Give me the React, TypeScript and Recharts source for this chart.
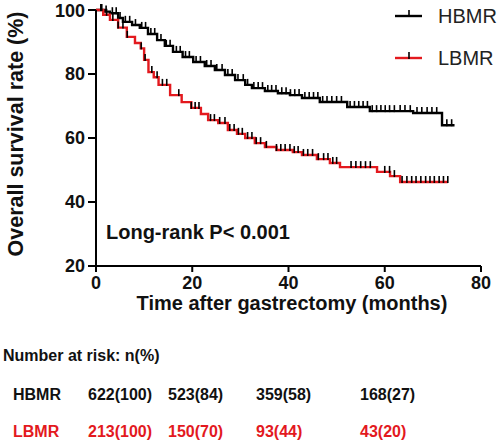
import React from "react";
import { LineChart, Line, XAxis, YAxis } from "recharts";

// step points (months, survival %)
const hbmrTimes = [0, 1.9, 2.9, 4.6, 5.6, 7.5, 9.1, 10.8, 12.7, 14.3, 16.0, 18.0, 20.2, 22.6, 24.7, 26.8, 28.9, 31.0, 32.4, 35.1, 37.8, 40.3, 42.8, 46.5, 52.2, 56.9, 65.9, 71.9];
const hbmrSurv = [100, 99.5, 99, 97.5, 96.3, 95.3, 94.4, 92.5, 90.6, 88.8, 86.9, 85.3, 83.75, 82.5, 81.25, 79.7, 78.1, 76.6, 75.6, 74.7, 74.0, 73.4, 72.5, 71.25, 69.7, 68.4, 67.8, 64.0];
const hbmrEnd = 74.5;
const hbmrCensor = [1.2, 2.1, 3.4, 4.2, 5.0, 6.1, 7.0, 8.2, 9.5, 10.3, 11.4, 12.2, 13.5, 14.6, 15.4, 16.7, 17.5, 18.6, 19.4, 20.8, 21.7, 23.0, 23.9, 25.1, 26.2, 27.4, 28.3, 29.5, 30.6, 31.5, 32.8, 33.7, 34.6, 35.7, 36.5, 37.4, 38.6, 39.5, 40.4, 41.3, 42.2, 43.4, 44.3, 45.2, 46.1, 47.1, 48.0, 49.0, 50.0, 51.0, 52.8, 53.7, 54.6, 55.5, 56.4, 57.4, 58.3, 59.2, 60.1, 61.0, 62.0, 63.2, 64.2, 65.3, 66.7, 67.7, 68.8, 69.8, 70.8, 72.9, 73.9];

const lbmrTimes = [0, 1.5, 2.9, 4.6, 6.4, 8.1, 9.3, 10.0, 10.9, 12.0, 13.0, 15.4, 17.8, 19.8, 21.8, 23.3, 25.4, 27.4, 29.3, 31.0, 33.0, 35.1, 37.5, 40.9, 42.8, 45.9, 48.6, 50.7, 58.4, 61.1, 63.2];
const lbmrSurv = [100, 98.5, 96.9, 94.5, 91.6, 89.7, 88.0, 84.4, 80.6, 79.0, 76.6, 73.4, 71.2, 69.4, 67.5, 65.6, 64.7, 62.5, 61.3, 60.0, 58.4, 57.2, 56.25, 55.6, 54.7, 53.4, 52.2, 50.9, 49.4, 48.1, 46.25];
const lbmrEnd = 73.1;
const lbmrCensor = [1.0, 2.2, 3.5, 4.6, 5.6, 6.5, 9.4, 10.2, 11.6, 12.7, 13.8, 14.7, 17.2, 19.8, 20.6, 21.4, 23.8, 24.6, 25.7, 26.8, 27.8, 28.7, 29.6, 30.4, 31.5, 32.4, 33.3, 34.2, 35.4, 37.5, 38.4, 39.3, 40.3, 41.2, 42.0, 43.1, 44.0, 45.0, 46.2, 47.3, 48.2, 49.2, 50.0, 53.0, 54.0, 55.0, 56.0, 57.0, 60.0, 61.0, 62.0, 63.6, 64.6, 65.6, 66.5, 67.5, 68.5, 69.4, 70.3, 71.3, 72.2, 73.1];

const xTicks = [0, 20, 40, 60, 80];
const yTicks = [20, 40, 60, 80, 100];

const riskGroups = ["HBMR", "LBMR"];
const hbmrRisk = ["622(100)", "523(84)", "359(58)", "168(27)"];
const lbmrRisk = ["213(100)", "150(70)", "93(44)", "43(20)"];

const FONT = "'Liberation Sans', Arial, sans-serif";
const RED = "#e3191e";

function survAt(times: number[], surv: number[], t: number) {
  let v = surv[0];
  for (let i = 0; i < times.length; i++) if (times[i] <= t) v = surv[i];
  return v;
}

function buildSeries(times: number[], surv: number[], end: number, censor: number[]) {
  const all = Array.from(new Set([...times, ...censor, end])).sort((a, b) => a - b);
  return all.map((t) => ({ t, s: survAt(times, surv, t), censor: censor.includes(t) }));
}

const hbmrData = buildSeries(hbmrTimes, hbmrSurv, hbmrEnd, hbmrCensor);
const lbmrData = buildSeries(lbmrTimes, lbmrSurv, lbmrEnd, lbmrCensor);

const censorDot = (props: any) => {
  const { cx, cy, payload, index } = props;
  if (!payload || !payload.censor) return <g key={index} />;
  return <line key={index} x1={cx} x2={cx} y1={cy - 6} y2={cy + 1} stroke="#000" strokeWidth={1.6} />;
};

const legendItems = [
  { name: "HBMR", color: "#000", y: 16 },
  { name: "LBMR", color: RED, y: 58 },
];

export default function App() {
  const cols = [88, 168, 256, 360];
  return (
    <div style={{ position: "absolute", left: 0, top: 0, width: 500, height: 446, background: "#fff", fontFamily: FONT }}>
      <LineChart width={500} height={320} margin={{ top: 10, right: 19, left: 36, bottom: 24 }}>
        <XAxis
          type="number"
          dataKey="t"
          domain={[0, 80]}
          ticks={xTicks}
          tickSize={6}
          tickMargin={4}
          height={30}
          stroke="#000"
          strokeWidth={2}
          tick={{ fill: "#111", fontSize: 18, fontWeight: "bold", fontFamily: FONT }}
          label={{
            content: () => (
              <text x={292} y={303} textAnchor="middle" dominantBaseline="central" fontFamily={FONT} fontSize={20} fontWeight="bold" fill="#111">
                Time after gastrectomy (months)
              </text>
            ),
          }}
        />
        <YAxis
          type="number"
          domain={[20, 100]}
          ticks={yTicks}
          width={60}
          tickSize={8}
          tickMargin={3}
          stroke="#000"
          strokeWidth={2}
          tick={{ fill: "#111", fontSize: 18, fontWeight: "bold", fontFamily: FONT }}
          label={{
            content: () => (
              <text x={16} y={134} textAnchor="middle" dominantBaseline="central" transform="rotate(-90 16 134)" fontFamily={FONT} fontSize={21.5} fontWeight="bold" fill="#111">
                Overall survival rate (%)
              </text>
            ),
          }}
        />
        <Line data={hbmrData} dataKey="s" name="HBMR" type="stepAfter" stroke="#000" strokeWidth={2.4} dot={censorDot} activeDot={false} isAnimationActive={false} />
        <Line data={lbmrData} dataKey="s" name="LBMR" type="stepAfter" stroke={RED} strokeWidth={2.4} dot={censorDot} activeDot={false} isAnimationActive={false} />
      </LineChart>
      <svg width={110} height={75} style={{ position: "absolute", left: 390, top: 0 }}>
        {legendItems.map((it) => (
          <g key={it.name}>
            <line x1={5} x2={32} y1={it.y} y2={it.y} stroke={it.color} strokeWidth={2.4} />
            <line x1={19} x2={19} y1={it.y - 6} y2={it.y + 1} stroke="#000" strokeWidth={1.6} />
            <text x={48} y={it.y} dy="0.35em" fontFamily={FONT} fontSize={20} fill="#222">
              {it.name}
            </text>
          </g>
        ))}
      </svg>
      <div style={{ position: "absolute", left: 106, top: 221, fontSize: 20, fontWeight: "bold", color: "#111", whiteSpace: "nowrap" }}>
        Long-rank P&lt; 0.001
      </div>
      <div style={{ position: "absolute", left: 3, top: 347, fontSize: 16, fontWeight: "bold", color: "#111", whiteSpace: "nowrap" }}>
        Number at risk: n(%)
      </div>
      {riskGroups.map((g, r) => {
        const vals = r === 0 ? hbmrRisk : lbmrRisk;
        const color = r === 0 ? "#111" : RED;
        const top = r === 0 ? 386 : 423;
        return (
          <div key={g}>
            <div style={{ position: "absolute", left: 13, top, fontSize: 16, fontWeight: "bold", color, whiteSpace: "nowrap" }}>{g}</div>
            {vals.map((v, i) => (
              <div key={v} style={{ position: "absolute", left: cols[i], top, fontSize: 16, fontWeight: "bold", color, whiteSpace: "nowrap" }}>
                {v}
              </div>
            ))}
          </div>
        );
      })}
    </div>
  );
}
